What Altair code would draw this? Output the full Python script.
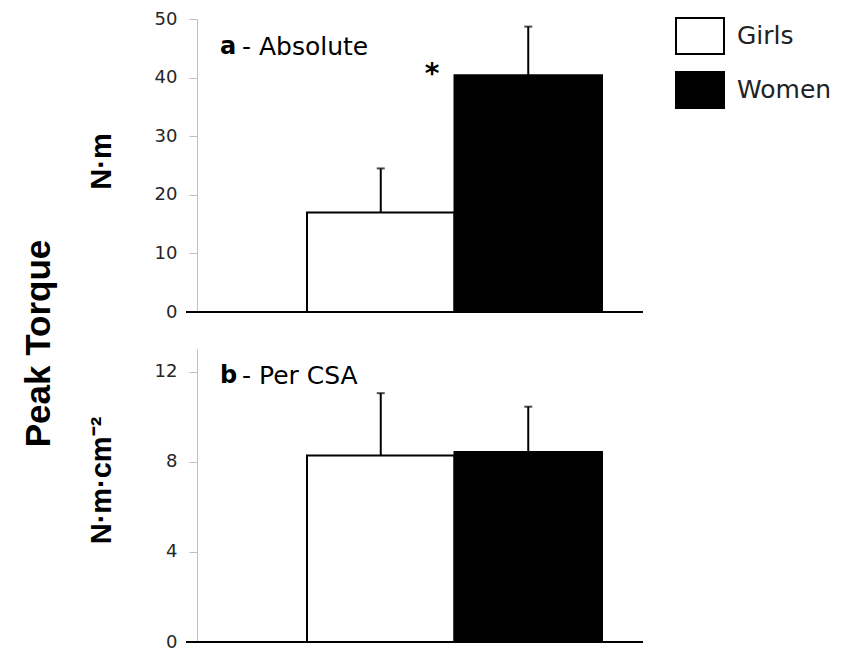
import altair as alt
import pandas as pd

# ---- data ----
groups = ["Girls", "Women"]
abs_mean = [17.0, 40.4]
abs_err = [7.5, 8.3]
csa_mean = [8.27, 8.43]
csa_err = [2.77, 2.01]
abs_ticks = [0, 10, 20, 30, 40, 50]
csa_ticks = [0, 4, 8, 12]
panel_letters = ["a", "b"]
panel_names = ["- Absolute", "- Per CSA"]
y_titles = ["N·m", "N·m·cm⁻²"]
signif_mark = ["*"]
main_title = "Peak Torque"

FONT = "DejaVu Sans"
BOLD = "Liberation Sans"
W = 446
H = 293

rect_path = "M-1,-0.75H1V0.75H-1Z"


def panel(means, errs, domain, ticks, ytitle, tsize, title_y, letter, name, label_y,
          show_legend, star_y=None):
    df = pd.DataFrame({
        "group": groups,
        "mean": means,
        "top": [m + e for m, e in zip(means, errs)],
    })
    base = alt.Chart(df)
    x = alt.X("group:N", axis=None,
              scale=alt.Scale(domain=groups, range=[110, 405], paddingInner=0, paddingOuter=0))
    yscale = alt.Scale(domain=domain, nice=False)
    if show_legend:
        legend = alt.Legend(title=None, orient="none", legendX=478, legendY=-8,
                            symbolType=rect_path, symbolSize=2304,
                            symbolStrokeColor="black", symbolStrokeWidth=2,
                            labelFont=FONT, labelFontSize=25, labelColor="#222222",
                            labelOffset=12, rowPadding=7, padding=0)
    else:
        legend = None
    color = alt.Color("group:N", scale=alt.Scale(domain=groups, range=["white", "black"]),
                      legend=legend)
    bars = base.mark_bar(stroke="black", strokeWidth=2).encode(
        x=x,
        y=alt.Y("mean:Q", scale=yscale,
                axis=alt.Axis(values=ticks, title=ytitle, titleFontSize=tsize,
                              titleY=title_y)),
        color=color,
    )
    stems = base.mark_rule(color="black", strokeWidth=2).encode(
        x=x, y=alt.Y("mean:Q"), y2="top:Q")
    caps = base.mark_tick(color="black", thickness=2, size=8).encode(
        x=x, y=alt.Y("top:Q"))
    baseline = alt.Chart(pd.DataFrame({"v": [0]})).mark_rule(
        color="black", strokeWidth=2).encode(
        x=alt.value(-11), x2=alt.value(W), y=alt.datum(0))
    lab_df = pd.DataFrame({"t": [letter], "n": [name]})
    t1 = alt.Chart(lab_df).mark_text(font=FONT, fontWeight="bold", fontSize=24,
                                     align="left", baseline="middle", color="black").encode(
        x=alt.value(23), y=alt.datum(label_y), text="t:N")
    t2 = alt.Chart(lab_df).mark_text(font=FONT, fontSize=25,
                                     align="left", baseline="middle", color="black").encode(
        x=alt.value(45), y=alt.datum(label_y), text="n:N")
    layers = [bars, stems, caps, baseline, t1, t2]
    if star_y is not None:
        st = alt.Chart(pd.DataFrame({"s": signif_mark})).mark_text(
            font=FONT, fontWeight="bold", fontSize=28, align="center",
            baseline="middle", color="black").encode(
            x=alt.value(235), y=alt.datum(star_y), text="s:N")
        layers.append(st)
    return alt.layer(*layers).properties(width=W, height=H)


top = panel(abs_mean, abs_err, [0, 50], abs_ticks, y_titles[0], 29, 142,
            panel_letters[0], panel_names[0], 45.3, True, star_y=40.5)
bottom = panel(csa_mean, csa_err, [0, 13], csa_ticks, y_titles[1], 29, 131,
               panel_letters[1], panel_names[1], 11.8, False)

chart = alt.vconcat(
    top, bottom, spacing=28,
    title=alt.Title(main_title, orient="left", fontSize=35, font=BOLD,
                    fontWeight="bold", anchor="middle", offset=30, dx=-13,
                    color="black"),
).resolve_legend(color="independent").properties(
    padding={"left": 21, "top": 10, "right": 5, "bottom": 5}
).configure_view(stroke=None).configure_axis(
    domainColor="#bfbfbf", domainWidth=1, tickColor="#bfbfbf", tickSize=8,
    labelFont=FONT, labelFontSize=18, labelColor="#262626", labelPadding=12,
    grid=False, titleFont=BOLD, titleFontWeight="bold", titleColor="black",
    titleX=-96, titleBaseline="middle",
)

chart.save("out.html", embed_options={"renderer": "svg", "actions": False})
